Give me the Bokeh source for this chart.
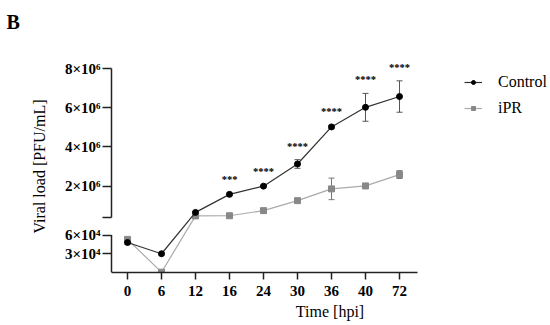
from bokeh.plotting import figure
from bokeh.models import (FixedTicker, Legend, LegendItem, ColumnDataSource,
                          Whisker, TeeHead)
from bokeh.core.properties import value
from bokeh.embed import file_html
from bokeh.resources import INLINE

# ---------------- data ----------------
timepoints = ["0", "6", "12", "16", "24", "30", "36", "40", "72"]
control_mean = [4.8e4, 3.0e4, 0.66e6, 1.58e6, 2.00e6, 3.13e6, 5.02e6, 6.02e6, 6.57e6]
control_err = [3e3, 1.5e3, 0.04e6, 0.07e6, 0.04e6, 0.22e6, 0.08e6, 0.71e6, 0.80e6]
ipr_mean = [5.3e4, 5e2, 0.48e6, 0.49e6, 0.75e6, 1.26e6, 1.86e6, 2.01e6, 2.59e6]
ipr_err = [3e3, 3e2, 0.03e6, 0.02e6, 0.03e6, 0.05e6, 0.55e6, 0.05e6, 0.20e6]
significance = ["", "", "", "***", "****", "****", "****", "****", "****"]

lower_ticks = [3e4, 6e4]
lower_tick_labels = ["3×10⁴", "6×10⁴"]
upper_ticks = [2e6, 4e6, 6e6, 8e6]
upper_tick_labels = ["2×10⁶", "4×10⁶", "6×10⁶", "8×10⁶"]

# ---------------- broken y axis mapping ----------------
LOW_MAX, LOW_H = 6e4, 37.5          # lower segment: 0 .. 6e4
UP_MIN, UP_MAX = 4e5, 8e6           # upper segment: 4e5 .. 8e6
UP_START, UP_H = 55.0, 149.0


def ty(v):
    if v <= LOW_MAX:
        return v / LOW_MAX * LOW_H
    return UP_START + (v - UP_MIN) / (UP_MAX - UP_MIN) * UP_H


idx = list(range(len(timepoints)))
src = ColumnDataSource(dict(
    x=idx,
    cy=[ty(v) for v in control_mean],
    cu=[ty(m + e) for m, e in zip(control_mean, control_err)],
    cl=[ty(m - e) for m, e in zip(control_mean, control_err)],
    iy=[ty(v) for v in ipr_mean],
    iu=[ty(m + e) for m, e in zip(ipr_mean, ipr_err)],
    il=[ty(m - e) for m, e in zip(ipr_mean, ipr_err)],
    stars=significance,
))

FONT = "Liberation Serif"
AX = "#222222"

W, H = 550, 325
FL, FT, FB = 109, 60, 272
x_start = -18 / 34
x_end = x_start + (W - FL) / 34
p = figure(width=W, height=H, output_backend="svg", toolbar_location=None,
           x_range=(x_start, x_end), y_range=(0, FB - FT),
           frame_width=W - FL, frame_height=FB - FT,
           min_border_left=FL, min_border_right=0, min_border_top=FT,
           min_border_bottom=0, title="B\n")
p.outline_line_color = None
p.grid.visible = False

p.title.align = "left"
p.title.vertical_align = "top"
p.title.offset = -(FL - 6)
p.title.text_font = FONT
p.title.text_font_style = "bold"
p.title.text_font_size = "20px"
p.title.text_color = "black"
p.title.standoff = 8

# x axis
p.xaxis.ticker = FixedTicker(ticks=idx)
p.xaxis.major_label_overrides = {i: t for i, t in zip(idx, timepoints)}
p.xaxis.bounds = (-16 / 34, 290 / 34)
p.xaxis.axis_label = "Time [hpi]"
p.xaxis.minor_tick_line_color = None
p.xaxis.major_tick_out = 7
p.xaxis.major_tick_in = 0
p.xaxis.major_label_standoff = 6
p.xaxis.axis_label_standoff = 4

# y axis
tick_pos = [round(ty(v), 2) for v in lower_ticks] + [round(ty(UP_MIN), 2)] + \
           [round(ty(v), 2) for v in upper_ticks]
tick_lab = lower_tick_labels + [""] + upper_tick_labels
p.yaxis.ticker = FixedTicker(ticks=tick_pos)
p.yaxis.major_label_overrides = {t: l for t, l in zip(tick_pos, tick_lab)}
p.yaxis.axis_label = "Viral load [PFU/mL]"
p.yaxis.minor_tick_line_color = None
p.yaxis.major_tick_out = 7
p.yaxis.major_tick_in = 2
p.yaxis.major_label_standoff = 2
p.yaxis.axis_label_standoff = 14

for ax in (p.xaxis, p.yaxis):
    ax.axis_line_width = 1.5
    ax.major_tick_line_width = 1.5
    ax.major_tick_line_color = AX
    ax.major_label_text_font = FONT
    ax.major_label_text_font_style = "bold"
    ax.major_label_text_color = "black"
    ax.axis_label_text_font = FONT
    ax.axis_label_text_font_style = "normal"
    ax.axis_label_text_font_size = "16px"
    ax.axis_label_text_color = "black"
p.xaxis.axis_line_color = AX
p.yaxis.axis_line_color = None
p.xaxis.major_label_text_font_size = "15px"
p.yaxis.major_label_text_font_size = "15px"

# broken y-axis line (two segments)
yx = -16 / 34
p.segment(x0=[yx, yx], y0=[0, ty(UP_MIN)], x1=[yx, yx], y1=[ty(LOW_MAX), ty(UP_MAX)],
          line_color=AX, line_width=1.5)

# iPR
ipr_line = p.line("x", "iy", source=src, line_color="#aaaaaa", line_width=1.2)
ipr_pts = p.scatter("x", "iy", source=src, marker="square", size=6,
                    fill_color="#888888", line_color="#888888")
p.add_layout(Whisker(base="x", upper="iu", lower="il", source=src,
                     line_color="#777777", line_width=1,
                     upper_head=TeeHead(size=6, line_color="#777777", line_width=1),
                     lower_head=TeeHead(size=6, line_color="#777777", line_width=1)))

# Control
ctl_line = p.line("x", "cy", source=src, line_color="#333333", line_width=1.2)
ctl_pts = p.scatter("x", "cy", source=src, marker="circle", size=6,
                    fill_color="black", line_color="black")
p.add_layout(Whisker(base="x", upper="cu", lower="cl", source=src,
                     line_color="#555555", line_width=1,
                     upper_head=TeeHead(size=6, line_color="#555555", line_width=1),
                     lower_head=TeeHead(size=6, line_color="#555555", line_width=1)))

# significance stars
p.text("x", "cu", text="stars", source=src, text_font=value(FONT),
       text_font_size="10.5px", text_font_style="bold", text_color="black",
       text_align="center", text_baseline="bottom", y_offset=-8)

legend = Legend(items=[LegendItem(label="Control", renderers=[ctl_line, ctl_pts]),
                       LegendItem(label="iPR", renderers=[ipr_line, ipr_pts])],
                location=(355, 154), glyph_width=18, glyph_height=10,
                label_height=20, label_standoff=16, spacing=6, padding=0,
                margin=0, border_line_color=None, background_fill_alpha=0,
                label_text_font=FONT, label_text_font_size="16px",
                label_text_color="black")
p.add_layout(legend)

open("out.html", "w").write(file_html(p, INLINE))
